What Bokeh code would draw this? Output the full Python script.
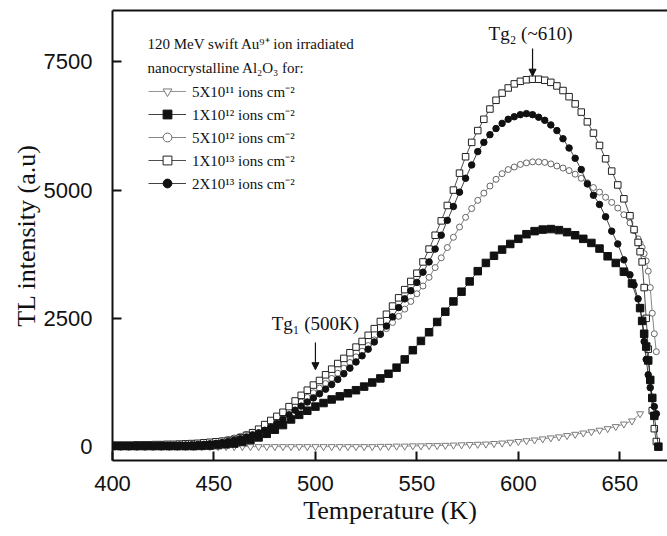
from bokeh.plotting import figure
from bokeh.models import (FixedTicker, Legend, LegendItem, Label, Arrow,
                          NormalHead, LinearAxis)
from bokeh.embed import file_html
from bokeh.resources import INLINE

# ---------------- data ----------------
T_main = [400, 403, 406, 409, 412, 415, 418, 421, 424, 427,
          430, 433, 436, 439, 442, 445, 448, 451, 454, 457,
          460, 463, 466, 469, 472, 475, 478, 481, 484, 487,
          490, 493, 496, 499, 502, 505, 508, 511, 514, 517,
          520, 523, 526, 529, 532, 535, 538, 541, 544, 547,
          550, 553, 556, 559, 562, 565, 568, 571, 574, 577,
          580, 583, 586, 589, 592, 595, 598, 601, 604, 607,
          610, 613, 616, 619, 622, 625, 628, 631, 634, 637,
          640, 643, 646, 649, 652, 655, 657, 659, 660, 661,
          662, 663, 664, 665, 666, 667, 668]

I_1e13 = [30, 30, 30, 30, 35, 35, 35, 40, 40, 45,
          45, 50, 55, 60, 65, 75, 85, 95, 105, 120,
          140, 175, 220, 270, 340, 430, 510, 590, 670, 780,
          890, 1000, 1100, 1200, 1290, 1400, 1510, 1620, 1720, 1830,
          1940, 2050, 2170, 2300, 2440, 2580, 2740, 2900, 3060, 3220,
          3380, 3600, 3850, 4120, 4400, 4700, 5000, 5330, 5650, 5930,
          6160, 6380, 6580, 6750, 6890, 6990, 7070, 7120, 7150, 7160,
          7160, 7140, 7100, 7030, 6940, 6820, 6680, 6520, 6330, 6110,
          5870, 5610, 5370, 5100, 4830, 4500, 4230, 3980, 3800, 3600,
          3100, 2500, 1900, 1300, 700, 350, 100]

I_2e13 = [20, 20, 20, 20, 20, 20, 20, 20, 25, 25,
          25, 30, 30, 35, 40, 45, 55, 65, 80, 100,
          125, 155, 190, 230, 270, 320, 380, 450, 530, 620,
          710, 790, 870, 950, 1030, 1120, 1210, 1310, 1420, 1530,
          1650, 1770, 1900, 2040, 2190, 2350, 2530, 2710, 2880, 3040,
          3200, 3400, 3600, 3850, 4120, 4410, 4680, 4960, 5230, 5490,
          5750, 5930, 6080, 6200, 6300, 6380, 6430, 6470, 6490, 6470,
          6420, 6360, 6270, 6160, 6000, 5820, 5620, 5400, 5120, 4900,
          4720, 4480, 4200, 3950, 3640, 3350, 3150, 2880, 2700, 2450,
          2050, 1700, 1400, 1150, 950, 780, 640]

I_5e12 = [25, 25, 25, 25, 25, 25, 25, 25, 30, 30,
          30, 35, 40, 45, 55, 65, 80, 95, 115, 140,
          170, 200, 240, 280, 330, 380, 440, 520, 610, 700,
          790, 870, 960, 1050, 1140, 1230, 1330, 1430, 1530, 1640,
          1750, 1860, 1970, 2080, 2190, 2300, 2420, 2540, 2680, 2830,
          2980, 3130, 3300, 3490, 3680, 3880, 4080, 4280, 4470, 4640,
          4800, 4940, 5080, 5210, 5320, 5400, 5450, 5500, 5530, 5550,
          5550, 5540, 5510, 5470, 5430, 5380, 5310, 5230, 5140, 5050,
          4960, 4860, 4760, 4650, 4520, 4360, 4210, 4050, 3960, 3880,
          3760, 3620, 3420, 3100, 2600, 2200, 1850]

T_1e12 = [400, 404, 408, 412, 416, 420, 424, 428, 432, 436,
          440, 444, 448, 452, 456, 460, 464, 468, 472, 476,
          480, 484, 488, 492, 496, 500, 504, 508, 512, 516,
          520, 524, 528, 532, 536, 540, 544, 548, 552, 556,
          560, 564, 568, 572, 576, 580, 584, 588, 592, 596,
          600, 604, 608, 612, 616, 620, 624, 628, 632, 636,
          640, 644, 648, 652, 656, 660, 661, 662, 663, 664,
          665, 666, 667, 669]

I_1e12 = [10, 10, 10, 10, 10, 10, 10, 10, 10, 10,
          10, 15, 20, 30, 45, 60, 90, 130, 180, 250,
          330, 420, 530, 620, 700, 780, 850, 920, 980, 1040,
          1100, 1170, 1250, 1330, 1420, 1540, 1700, 1880, 2060, 2230,
          2430, 2630, 2830, 3020, 3220, 3420, 3580, 3720, 3840, 3950,
          4050, 4140, 4200, 4230, 4240, 4220, 4180, 4120, 4050, 3970,
          3860, 3710, 3580, 3410, 3180, 2700, 2450, 2200, 1950, 1680,
          1300, 950, 600, 0]

T_5e11 = [400, 404, 408, 412, 416, 420, 424, 428, 432, 436,
          440, 444, 448, 452, 456, 460, 464, 468, 472, 476,
          480, 484, 488, 492, 496, 500, 504, 508, 512, 516,
          520, 524, 528, 532, 536, 540, 544, 548, 552, 556,
          560, 564, 568, 572, 576, 580, 584, 588, 592, 596,
          600, 604, 608, 612, 616, 620, 624, 628, 632, 636,
          640, 644, 648, 652, 656, 660]

I_5e11 = [0, 0, 0, 0, 0, 0, 0, 0, 0, 0,
          0, 0, 0, 0, 0, 0, 0, 0, 0, 0,
          0, 0, 0, 0, 0, 0, 0, 0, 0, 0,
          0, 0, 0, 5, 5, 10, 10, 15, 15, 20,
          20, 25, 30, 35, 40, 45, 50, 60, 70, 85,
          100, 115, 130, 150, 170, 190, 215, 240, 265, 290,
          320, 350, 390, 440, 500, 640]

x_ticks = [400, 450, 500, 550, 600, 650]
y_ticks = [0, 2500, 5000, 7500]

labels = ["5X10\u00b9\u00b9 ions cm\u207b\u00b2",
          "1X10\u00b9\u00b2 ions cm\u207b\u00b2",
          "5X10\u00b9\u00b2 ions cm\u207b\u00b2",
          "1X10\u00b9\u00b3 ions cm\u207b\u00b2",
          "2X10\u00b9\u00b3 ions cm\u207b\u00b2"]

Tg1, Tg1_text = 500, "Tg\u2081 (500K)"
Tg2, Tg2_text = 607, "Tg\u2082 (~610)"

SERIF = "Liberation Serif"
SANS = "Liberation Sans"

# ---------------- figure ----------------
p = figure(width=667, height=536, x_range=(400, 673.5), y_range=(-270, 8500),
           output_backend="svg", toolbar_location=None,
           min_border_left=112, min_border_right=0, min_border_top=10,
           min_border_bottom=76)
p.outline_line_color = None
p.grid.visible = False
p.background_fill_color = "white"
p.border_fill_color = "white"

for ax in (p.xaxis[0], p.yaxis[0]):
    ax.axis_line_width = 2
    ax.axis_line_color = "#111111"
    ax.major_tick_line_width = 2
    ax.major_tick_line_color = "#111111"
    ax.major_tick_in = 9
    ax.major_tick_out = 0
    ax.minor_tick_line_color = None
    ax.major_label_text_font = SANS
    ax.major_label_text_font_size = "22px"
    ax.major_label_text_color = "#111111"
    ax.axis_label_text_font = SERIF
    ax.axis_label_text_font_style = "normal"
    ax.axis_label_text_font_size = "26px"
    ax.axis_label_text_color = "#111111"

p.xaxis.ticker = FixedTicker(ticks=x_ticks)
p.yaxis.ticker = FixedTicker(ticks=y_ticks)
p.xaxis.axis_label = "Temperature (K)"
p.yaxis.axis_label = "TL intensity (a.u)"
p.xaxis.major_label_standoff = 15
p.xaxis.axis_label_standoff = 2
p.yaxis.major_label_standoff = 20
p.yaxis.axis_label_standoff = 0

top = LinearAxis(ticker=FixedTicker(ticks=[]), major_label_text_font_size="0px",
                 major_tick_in=0, major_tick_out=0, minor_tick_in=0,
                 minor_tick_out=0, major_label_standoff=0,
                 axis_line_width=2, axis_line_color="#111111")
p.add_layout(top, "above")

# ---------------- series ----------------
def series(T, I, marker, size, fill, line, lc):
    lr = p.line(T, I, line_color=lc, line_width=0.8)
    sr = p.scatter(T, I, marker=marker, size=size, fill_color=fill,
                   line_color=line, line_width=1)
    return [lr, sr]

r_5e11 = series(T_5e11, I_5e11, "inverted_triangle", 7, "white", "#7a7a7a", "#7a7a7a")
r_5e12 = series(T_main, I_5e12, "circle", 6, "white", "#666666", "#666666")
r_1e13 = series(T_main, I_1e13, "square", 6.5, "white", "#222222", "#222222")
r_2e13 = series(T_main, I_2e13, "circle", 6.5, "#111111", "#111111", "#111111")
r_1e12 = series(T_1e12, I_1e12, "square", 7.5, "#111111", "#111111", "#111111")

items = [LegendItem(label=labels[0], renderers=r_5e11),
         LegendItem(label=labels[1], renderers=r_1e12),
         LegendItem(label=labels[2], renderers=r_5e12),
         LegendItem(label=labels[3], renderers=r_1e13),
         LegendItem(label=labels[4], renderers=r_2e13)]
legend = Legend(items=items, location=(36, 266), background_fill_alpha=0,
                border_line_color=None, label_text_font=SERIF,
                label_text_font_size="15px", label_text_color="#111111",
                glyph_width=38, glyph_height=22, label_height=22, spacing=1,
                padding=0, margin=0, label_standoff=6)
p.add_layout(legend)

for txt, yy in (("120 MeV swift Au\u2079\u207a ion irradiated", 417),
                ("nanocrystalline Al\u2082O\u2083 for:", 393)):
    p.add_layout(Label(x=35, y=yy, x_units="screen", y_units="screen", text=txt,
                       text_font=SERIF, text_font_size="15px",
                       text_color="#111111", text_baseline="middle"))

# ---------------- annotations ----------------
p.add_layout(Label(x=Tg1, y=2400, text=Tg1_text, text_font=SERIF,
                   text_font_size="19px", text_align="center",
                   text_baseline="middle", text_color="#111111"))
p.add_layout(Arrow(end=NormalHead(size=7, fill_color="#111111", line_color="#111111"),
                   x_start=Tg1, y_start=2030, x_end=Tg1, y_end=1500,
                   line_width=1.2, line_color="#111111"))
p.add_layout(Label(x=Tg2 - 1, y=8050, text=Tg2_text, text_font=SERIF,
                   text_font_size="19px", text_align="center",
                   text_baseline="middle", text_color="#111111"))
p.add_layout(Arrow(end=NormalHead(size=7, fill_color="#111111", line_color="#111111"),
                   x_start=Tg2, y_start=7760, x_end=Tg2, y_end=7220,
                   line_width=1.2, line_color="#111111"))

open("out.html", "w").write(file_html(p, INLINE))
